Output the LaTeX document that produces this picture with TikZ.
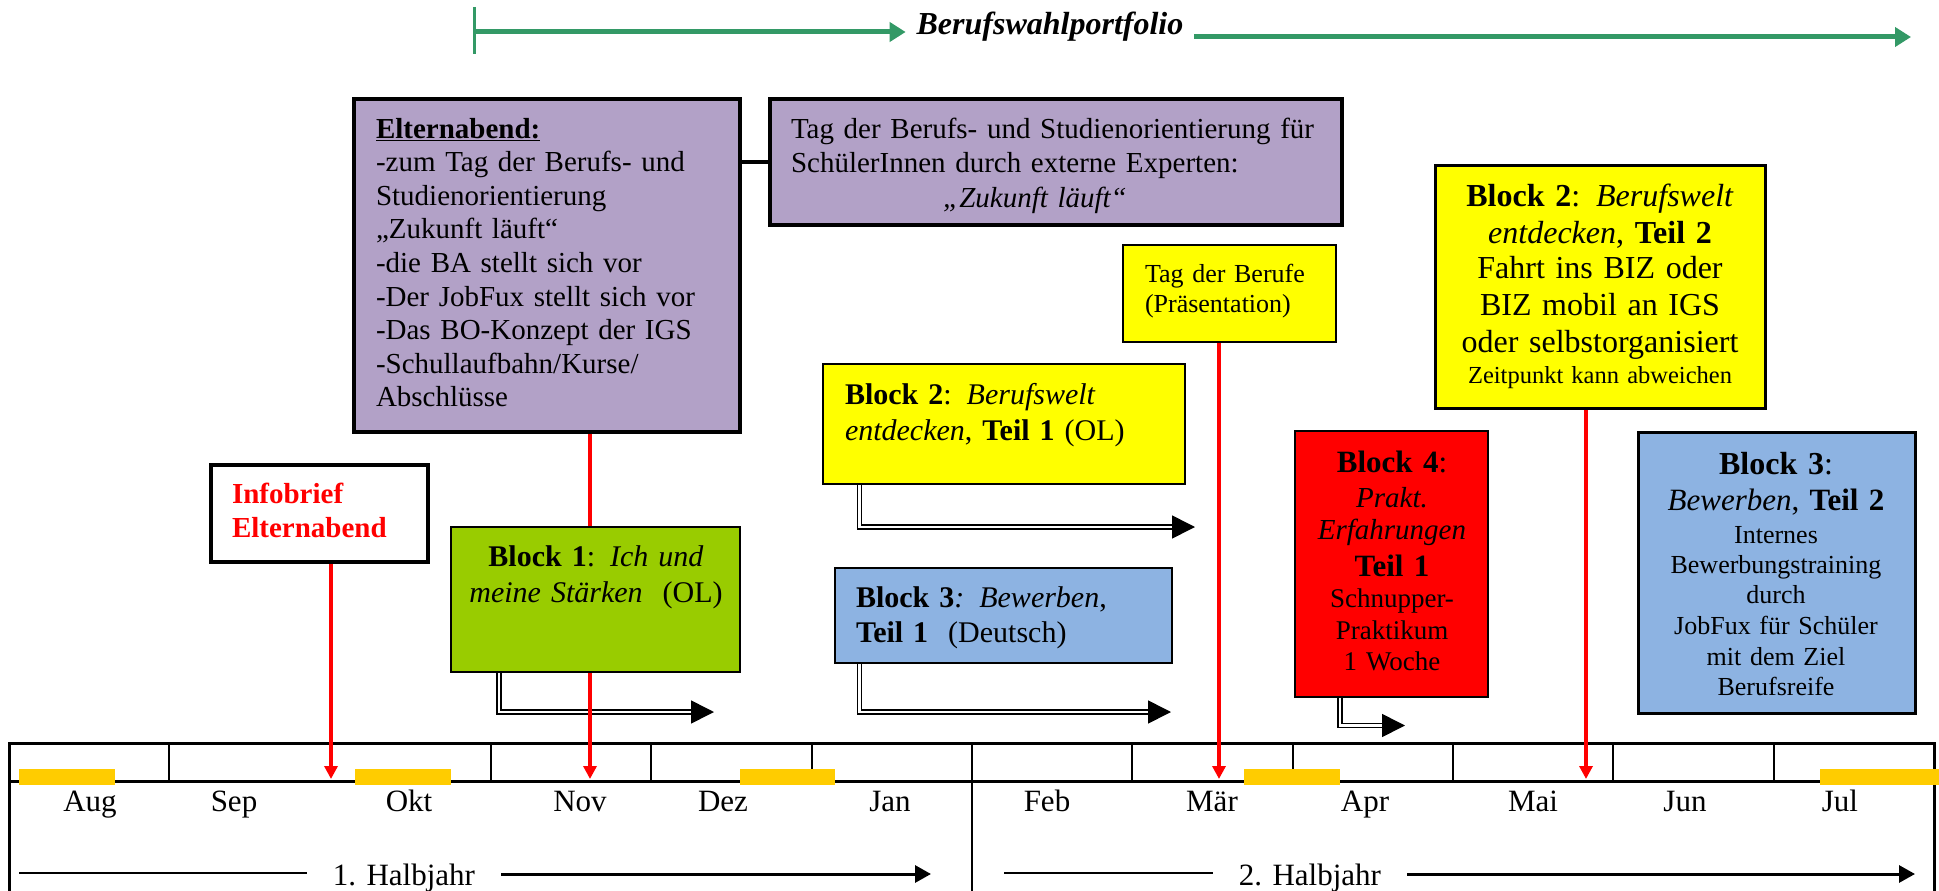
\documentclass[tikz,border=0pt]{standalone}
\usepackage{fontspec}
\setmainfont{Liberation Serif}
\usetikzlibrary{arrows.meta}
\definecolor{purp}{HTML}{B2A1C7}
\definecolor{yel}{HTML}{FFFF00}
\definecolor{grn}{HTML}{99CC00}
\definecolor{blu}{HTML}{8DB3E2}
\definecolor{rd}{HTML}{FF0000}
\definecolor{bar}{HTML}{FFCC00}
\definecolor{gr}{HTML}{339966}
\pgfdeclarelayer{bg}
\pgfsetlayers{bg,main}
\newcommand\txl[3]{\fontsize{#1}{#2}\selectfont\spaceskip=.3333em\xspaceskip=.5em\relax #3\par}
\begin{document}
\begin{tikzpicture}[x=1pt,y=-1pt,
  every node/.style={inner sep=0pt, outer sep=0pt},
  boxs/.style={draw=black, anchor=north west, inner sep=0pt},
  tnode/.style={inner sep=0pt, anchor=north west, align=left},
  cnode/.style={inner sep=0pt, anchor=north, align=center},
  redarr/.style={draw=rd, line width=3.5pt, -{Triangle[length=13pt,width=13pt]}},
  dblarr/.style={double, double distance=2.6pt, line width=1.6pt, -{Triangle[length=23pt,width=23pt]}},
  garr/.style={draw=gr, line width=5pt, -{Triangle[length=16pt,width=19pt]}},
  month/.style={anchor=base, font=\fontsize{31}{36}\selectfont},
  half/.style={anchor=base, font=\fontsize{31}{36}\selectfont, inner xsep=26pt},
]
\useasboundingbox (0,0) rectangle (1939,891);

% ---------- timeline ----------
\begin{pgfonlayer}{bg}
\draw[line width=3pt] (9,900) -- (9,743) -- (1934,743) -- (1934,900);
\draw[line width=3pt] (9,781) -- (1934,781);
\draw[line width=2.5pt] (972,743) -- (972,900);
\foreach \x in {169,491,651,812,1132,1293,1453,1613,1774}
  \draw[line width=2pt] (\x,743) -- (\x,781);
\foreach \a/\b in {19/115,355/451,740/835,1244/1340,1820/1945}
  \fill[bar] (\a,769) rectangle (\b,785);
\end{pgfonlayer}

\node[month] (mAug) at (90,811) {Aug};
\node[month] (mSep) at (234,811) {Sep};
\node[month] (mOkt) at (409,811) {Okt};
\node[month] (mNov) at (580,811) {Nov};
\node[month] (mDez) at (723,811) {Dez};
\node[month] (mJan) at (890,811) {Jan};
\node[month] (mFeb) at (1047,811) {Feb};
\node[month] (mMar) at (1212,811) {Mär};
\node[month] (mApr) at (1365,811) {Apr};
\node[month] (mMai) at (1533,811) {Mai};
\node[month] (mJun) at (1685,811) {Jun};
\node[month] (mJul) at (1840,811) {Jul};

\node[half] (h1) at (404,885) {1. Halbjahr};
\node[half] (h2) at (1310,885) {2. Halbjahr};
\coordinate (h1a) at (19,873);
\coordinate (h1b) at (931,874);
\coordinate (h2a) at (1004,873);
\coordinate (h2b) at (1915,874);
\draw[line width=2pt] (h1a) -- (h1a -| h1.west);
\draw[line width=3pt, -{Triangle[length=16pt,width=17pt]}] (h1b -| h1.east) -- (h1b);
\draw[line width=2pt] (h2a) -- (h2a -| h2.west);
\draw[line width=3pt, -{Triangle[length=16pt,width=17pt]}] (h2b -| h2.east) -- (h2b);

% ---------- green portfolio arrow ----------
\node[anchor=base, inner xsep=11pt, font=\fontsize{32}{36}\selectfont\bfseries\itshape] (bwp) at (1050,35) {Berufswahlportfolio};
\coordinate (gs) at (474,32);
\coordinate (ge) at (1911,37);
\draw[gr, line width=3pt] (474,7) -- (474,54);
\draw[garr] (gs) -- (gs -| bwp.west);
\draw[garr] (ge -| bwp.east) -- (ge);

% ---------- boxes ----------
\node[boxs, fill=purp, line width=4pt, minimum width=386pt, minimum height=333pt] (elt) at (354,99) {};
\node[boxs, fill=purp, line width=4pt, minimum width=572pt, minimum height=126pt] (tag) at (770,99) {};
\node[boxs, fill=white, line width=4pt, minimum width=217pt, minimum height=97pt] (info) at (211,465) {};
\node[boxs, fill=grn, line width=2pt, minimum width=289pt, minimum height=145pt] (b1) at (451,527) {};
\node[boxs, fill=yel, line width=2pt, minimum width=362pt, minimum height=120pt] (b2a) at (823,364) {};
\node[boxs, fill=blu, line width=2.5pt, minimum width=337pt, minimum height=95pt] (b3a) at (835,568) {};
\node[boxs, fill=yel, line width=2.5pt, minimum width=213pt, minimum height=97pt] (tdb) at (1123,245) {};
\node[boxs, fill=rd, line width=2.5pt, minimum width=193pt, minimum height=266pt] (b4) at (1295,431) {};
\node[boxs, fill=yel, line width=3pt, minimum width=330pt, minimum height=243pt] (b2b) at (1435,165) {};
\node[boxs, fill=blu, line width=3pt, minimum width=277pt, minimum height=281pt] (b3b) at (1638,432) {};

\draw[line width=4pt] (tag.west) -- (tag.west -| elt.east);

% ---------- texts ----------
\node[tnode, text width=360pt, font=\fontsize{29}{33.6}\selectfont] (eltT) at (376,118)
  {\underline{\textbf{Elternabend:}}\\-zum Tag der Berufs- und\\Studienorientierung\\„Zukunft läuft“\\-die BA stellt sich vor\\-Der JobFux stellt sich vor\\-Das BO-Konzept der IGS\\-Schullaufbahn/Kurse/\\Abschlüsse};
\node[tnode, text width=560pt, font=\fontsize{29}{34.5}\selectfont] (tagT) at (791,118)
  {Tag der Berufs- und Studienorientierung für\\SchülerInnen durch externe Experten:\par\centering\hspace*{-72pt}\textit{„Zukunft läuft“}\par};
\node[tnode, text width=190pt, text=rd, font=\fontsize{29}{34}\selectfont\bfseries] (infoT) at (232,483)
  {Infobrief\\Elternabend};
\node[cnode, text width=285pt, font=\fontsize{30}{36}\selectfont] (b1T) at (596,546)
  {\textbf{Block 1}: \textit{Ich und}\\\textit{meine Stärken}\ \ (OL)};
\node[tnode, text width=340pt, font=\fontsize{30}{36}\selectfont] (b2aT) at (845,383)
  {\textbf{Block 2}: \textit{Berufswelt}\\\textit{entdecken},~\textbf{Teil 1} (OL)};
\node[tnode, text width=320pt, font=\fontsize{30}{35}\selectfont] (b3aT) at (856,587)
  {\textbf{Block 3}\textit{: Bewerben},\\\textbf{Teil 1}\ \ (Deutsch)};
\node[tnode, text width=200pt, font=\fontsize{26}{30}\selectfont] (tdbT) at (1145,264)
  {Tag der Berufe\\(Präsentation)};
\node[cnode, text width=190pt, font=\fontsize{31}{35}\selectfont] (b4T) at (1392,451)
  {\txl{31}{35}{\textbf{Block 4}:}\txl{29}{35}{\textit{Prakt.}}\txl{29}{32}{\textit{Erfahrungen}}\txl{31}{37}{\textbf{Teil 1}}\txl{27}{31}{Schnupper-}\txl{27}{32}{Praktikum}\txl{27}{31}{1 Woche}};
\node[cnode, text width=330pt, font=\fontsize{32}{37}\selectfont] (b2bT) at (1600,184)
  {\txl{32}{37}{\textbf{Block 2}: \textit{Berufswelt}}\txl{32}{37}{\textit{entdecken}, \textbf{Teil 2}}\txl{32}{35}{Fahrt ins BIZ oder}\txl{32}{37}{BIZ mobil an IGS}\txl{32}{37}{oder selbstorganisiert}\txl{24.5}{31}{Zeitpunkt kann abweichen}};
\node[cnode, text width=275pt, font=\fontsize{32}{36}\selectfont] (b3bT) at (1776,452)
  {\txl{32}{36}{\textbf{Block 3}:}\txl{31}{36}{\textit{Bewerben},~\textbf{Teil 2}}\txl{26}{33}{Internes}\txl{26}{30}{Bewerbungstraining}\txl{26}{30}{durch}\txl{26}{31}{JobFux für Schüler}\txl{26}{31}{mit dem Ziel}\txl{26}{30}{Berufsreife}};

% ---------- connectors (behind boxes) ----------
\coordinate (c1) at (499,712);   \coordinate (t1) at (714,712);
\coordinate (c2) at (859.5,527); \coordinate (t2) at (1195,527);
\coordinate (c3) at (859.5,712); \coordinate (t3) at (1171,712);
\coordinate (c4) at (1340,725.5);\coordinate (t4) at (1405,725.5);
\coordinate (rInfo) at (331,779);
\coordinate (rNov) at (590,779);
\coordinate (rMar) at (1219,779);
\coordinate (rMai) at (1586,779);
\begin{pgfonlayer}{bg}
\draw[dblarr] (b1.south -| c1) -- (c1) -- (t1);
\draw[dblarr] (b2a.south -| c2) -- (c2) -- (t2);
\draw[dblarr] (b3a.south -| c3) -- (c3) -- (t3);
\draw[dblarr] (b4.south -| c4) -- (c4) -- (t4);
\draw[redarr] (info.south -| rInfo) -- (rInfo);
\draw[redarr] (elt.south -| rNov) -- (rNov);
\draw[redarr] (tdb.south -| rMar) -- (rMar);
\draw[redarr] (b2b.south -| rMai) -- (rMai);
\end{pgfonlayer}
\end{tikzpicture}
\end{document}
